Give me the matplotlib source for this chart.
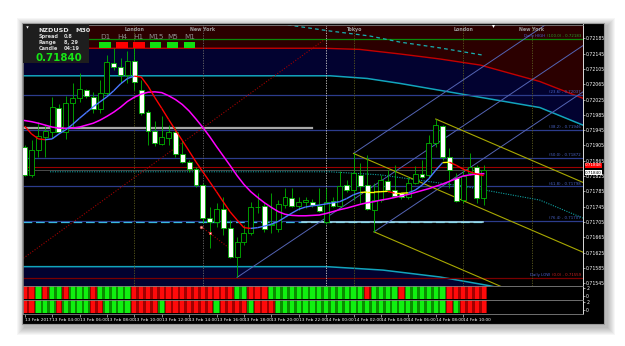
import matplotlib.pyplot as plt
from matplotlib.patches import Rectangle, Polygon
from matplotlib.collections import LineCollection
import numpy as np

W, H = 625, 346

# NZDUSD M30, bars from 13 Feb 02:00
opens = [0.71900, 0.71828, 0.71893, 0.71928, 0.71941, 0.72004, 0.71941, 0.72015, 0.72028, 0.72050,
         0.72032, 0.71999, 0.72042, 0.72121, 0.72111, 0.72089, 0.72126, 0.72050, 0.71992, 0.71943,
         0.71909, 0.71924, 0.71941, 0.71883, 0.71861, 0.71843, 0.71801, 0.71716, 0.71704, 0.71738,
         0.71688, 0.71612, 0.71653, 0.71675, 0.71743, 0.71747, 0.71697, 0.71686, 0.71749, 0.71768,
         0.71747, 0.71758, 0.71758, 0.71747, 0.71704, 0.71760, 0.71747, 0.71801, 0.71788, 0.71828,
         0.71801, 0.71736, 0.71762, 0.71813, 0.71788, 0.71780, 0.71771, 0.71806, 0.71829, 0.71828,
         0.71910, 0.71957, 0.71875, 0.71819, 0.71762, 0.71832, 0.71849, 0.71767]
highs = [0.71906, 0.71919, 0.71967, 0.71958, 0.72032, 0.72013, 0.72034, 0.72069, 0.72093, 0.72053,
         0.72045, 0.72076, 0.72141, 0.72160, 0.72134, 0.72152, 0.72163, 0.72076, 0.71998, 0.71969,
         0.71982, 0.71958, 0.71954, 0.71919, 0.71867, 0.71849, 0.71806, 0.71745, 0.71754, 0.71771,
         0.71710, 0.71666, 0.71697, 0.71758, 0.71780, 0.71754, 0.71780, 0.71762, 0.71793, 0.71793,
         0.71771, 0.71771, 0.71766, 0.71793, 0.71793, 0.71771, 0.71838, 0.71815, 0.71884, 0.71858,
         0.71880, 0.71806, 0.71828, 0.71841, 0.71854, 0.71784, 0.71823, 0.71851, 0.71867, 0.71932,
         0.71974, 0.71958, 0.71897, 0.71832, 0.71841, 0.71884, 0.71854, 0.71854]
lows = [0.71825, 0.71822, 0.71875, 0.71875, 0.71924, 0.71937, 0.71921, 0.71954, 0.72019, 0.72030,
        0.71989, 0.71989, 0.72034, 0.72102, 0.72067, 0.72068, 0.72050, 0.71984, 0.71906, 0.71903,
        0.71906, 0.71906, 0.71875, 0.71858, 0.71836, 0.71797, 0.71701, 0.71636, 0.71692, 0.71671,
        0.71610, 0.71560, 0.71645, 0.71671, 0.71728, 0.71679, 0.71675, 0.71679, 0.71741, 0.71745,
        0.71736, 0.71741, 0.71744, 0.71732, 0.71700, 0.71745, 0.71745, 0.71783, 0.71762, 0.71754,
        0.71736, 0.71679, 0.71758, 0.71784, 0.71771, 0.71764, 0.71764, 0.71804, 0.71819, 0.71822,
        0.71902, 0.71867, 0.71793, 0.71758, 0.71754, 0.71828, 0.71754, 0.71749]
closes = [0.71828, 0.71893, 0.71930, 0.71943, 0.72005, 0.71941, 0.72015, 0.72028, 0.72052, 0.72035,
          0.71999, 0.72041, 0.72124, 0.72109, 0.72089, 0.72126, 0.72072, 0.71990, 0.71943, 0.71912,
          0.71926, 0.71941, 0.71883, 0.71862, 0.71843, 0.71801, 0.71716, 0.71704, 0.71739, 0.71688,
          0.71614, 0.71653, 0.71675, 0.71745, 0.71745, 0.71686, 0.71699, 0.71751, 0.71771, 0.71747,
          0.71758, 0.71762, 0.71749, 0.71734, 0.71758, 0.71747, 0.71800, 0.71788, 0.71832, 0.71800,
          0.71738, 0.71762, 0.71815, 0.71788, 0.71773, 0.71769, 0.71806, 0.71829, 0.71822, 0.71910,
          0.71958, 0.71875, 0.71841, 0.71760, 0.71825, 0.71849, 0.71767, 0.71841]

fast_ma = [0.71955, 0.71935, 0.71922, 0.71920, 0.71922, 0.71935, 0.71946, 0.71960, 0.71976, 0.71991,
           0.72006, 0.72019, 0.72032, 0.72048, 0.72066, 0.72080, 0.72086, 0.72084, 0.72060, 0.72030,
           0.72002, 0.71973, 0.71945, 0.71918, 0.71890, 0.71862, 0.71836, 0.71810, 0.71784, 0.71757,
           0.71731, 0.71710, 0.71690, 0.71688, 0.71690, 0.71694, 0.71699, 0.71706, 0.71717, 0.71728,
           0.71738, 0.71744, 0.71747, 0.71749, 0.71752, 0.71755, 0.71758, 0.71766, 0.71776, 0.71782,
           0.71783, 0.71783, 0.71784, 0.71785, 0.71780, 0.71780, 0.71781, 0.71788, 0.71801, 0.71818,
           0.71840, 0.71860, 0.71861, 0.71853, 0.71843, 0.71836, 0.71830, 0.71826]
slow_ma = [0.71970, 0.71967, 0.71963, 0.71958, 0.71953, 0.71950, 0.71950, 0.71950, 0.71953, 0.71958,
           0.71963, 0.71971, 0.71981, 0.71992, 0.72005, 0.72020, 0.72031, 0.72039, 0.72044, 0.72045,
           0.72043, 0.72035, 0.72025, 0.72012, 0.71995, 0.71974, 0.71952, 0.71928, 0.71902, 0.71877,
           0.71852, 0.71826, 0.71803, 0.71784, 0.71769, 0.71755, 0.71743, 0.71732, 0.71725, 0.71722,
           0.71721, 0.71721, 0.71722, 0.71723, 0.71727, 0.71732, 0.71737, 0.71741, 0.71746, 0.71751,
           0.71755, 0.71758, 0.71762, 0.71765, 0.71769, 0.71773, 0.71777, 0.71782, 0.71787, 0.71792,
           0.71798, 0.71804, 0.71811, 0.71818, 0.71825, 0.71828, 0.71830, 0.71831]

# two trend histograms, G = up, R = down
hist_top = "RRGRGGRGGGRGGGGG" + "RRRRRRRRRRRRRRRGGRRR" + "GGGGGGGGGGGGGG" + "RGGGGRGGGGGGRRRRRR"
hist_bottom = "RRGGGRGGGGRRGGGG" + "RRRRGRRRRRRRGRRRRGRR" + "RGGGGGGGGGGGGG" + "GGGGGGGGGGGGRGRRRR"

price_ticks = [0.72185, 0.72145, 0.72105, 0.72065, 0.72025, 0.71985, 0.71945, 0.71905, 0.71865,
               0.71825, 0.71785, 0.71745, 0.71705, 0.71665, 0.71625, 0.71585, 0.71545]
time_bars = list(range(0, 68, 4))
time_labels = ['13 Feb 2017', '13 Feb 04:00', '13 Feb 06:00', '13 Feb 08:00', '13 Feb 10:00',
               '13 Feb 12:00', '13 Feb 14:00', '13 Feb 16:00', '13 Feb 18:00', '13 Feb 20:00',
               '13 Feb 22:00', '14 Feb 00:00', '14 Feb 02:00', '14 Feb 04:00', '14 Feb 06:00',
               '14 Feb 08:00', '14 Feb 10:00']

fib_names = ['(23.6)', '(38.2)', '(50.0)', '(61.8)', '(76.4)']
fib_levels = [0.72037, 0.71946, 0.71872, 0.71798, 0.71707]
daily_high = 0.72183
daily_low = 0.71559
open_level = 0.71848
bid = 0.71840
grey_level = 0.71950
dashed_level = 0.71704

session_names = ['London', 'New York', 'Tokyo', 'London', 'New York']
session_bars = [16, 26, 48, 64, 74]
session_colors = ['#5c5c1e', '#6a6a6a', '#5c5c1e', '#5c5c1e', '#5c5c1e']
day_bar = 44

# channel envelope (bar, price)
up_red_x = [-0.25, 9.5, 43.5, 48.9, 54.8, 60.6, 66.5, 75.2, 81.5]
up_red_y = [0.72159, 0.72159, 0.72159, 0.72156, 0.72144, 0.72131, 0.72115, 0.72072, 0.72028]
up_cyan_x = [-0.25, 44.6, 50.0, 54.8, 64.5, 75.2, 81.5]
up_cyan_y = [0.72087, 0.72087, 0.72080, 0.72067, 0.72037, 0.72004, 0.71958]
lo_cyan_x = [-0.25, 44.1, 52.3, 60.6, 67.9, 81.5]
lo_cyan_y = [0.71588, 0.71588, 0.71579, 0.71561, 0.71538, 0.71480]
teal_x = [3.7, 44.6, 51.9, 64.5, 75.2, 81.5]
teal_y = [0.71836, 0.71836, 0.71828, 0.71797, 0.71762, 0.71715]
top_teal_x = [38.4, 44.6, 50.4, 54.8, 60.6, 66.9]
top_teal_y = [0.72220, 0.72204, 0.72191, 0.72175, 0.72160, 0.72141]
red_diag_x = [-0.2, 43.7]
red_diag_y = [0.71610, 0.72181]
red_short_x = [25.8, 30.2]
red_short_y = [0.71692, 0.71632]

# pitchfork style lines
blue_pivot_x = [31, 48, 51]
blue_pivot_y = [0.71560, 0.71884, 0.71679]
blue_slope = 0.00012
yellow_pivot_x = [60, 48, 51]
yellow_pivot_y = [0.71974, 0.71884, 0.71679]
yellow_slope = -0.0000771

tf_names = ['D1', 'H4', 'H1', 'M15', 'M5', 'M1']
tf_up = [1, 0, 0, 1, 1, 1]
info_names = ['Spread', 'Range', 'Candle']
info_values = ['0.8', '8, 29', '04:19']

X0, X1 = -0.25, 81.5
Y0, Y1 = 0.715382, 0.722211


def box(l, t, r, b):
    return [l / W, 1 - b / H, (r - l) / W, (b - t) / H]


fig = plt.figure(figsize=(W / 100, H / 100), dpi=100, facecolor='white')

# window and shadow
axb = fig.add_axes([0, 0, 1, 1], zorder=-10)
axb.set_xlim(0, W)
axb.set_ylim(H, 0)
axb.axis('off')
for k in range(8, 0, -1):
    axb.add_patch(Rectangle((22 - k + 2.5, 23 - k + 3), 582 + 2 * k, 301 + 2 * k,
                            fc='black', ec='none', alpha=0.035))
axb.add_patch(Rectangle((22, 23), 582, 301, fc='black', ec='#9a9a9a', lw=0.8))

ax = fig.add_axes(box(23, 24.5, 583, 285.7))
ax1 = fig.add_axes(box(23, 285.7, 583, 300))
ax2 = fig.add_axes(box(23, 300, 583, 314))

for a in (ax, ax1, ax2):
    a.set_facecolor('black')
    a.set_xlim(X0, X1)
    for s in a.spines.values():
        s.set_color('#808080')
        s.set_linewidth(0.6)
    a.spines['right'].set_color('white')
    a.yaxis.tick_right()
    a.tick_params(axis='y', labelsize=3.3, colors='white', length=1.5, width=0.4, pad=0.8)

ax.set_ylim(Y0, Y1)
ax.set_xticks([])
ax.set_yticks(price_ticks)
ax.set_yticklabels([f'{p:.5f}' for p in price_ticks])

# background zones
ax.add_patch(Polygon(list(zip(up_red_x, up_red_y)) + [(X1, Y1 + 0.001), (X0, Y1 + 0.001)],
                     closed=True, fc='#2b0000', ec='none', zorder=0))
ax.add_patch(Polygon(list(zip(up_red_x, up_red_y)) + list(zip(up_cyan_x, up_cyan_y))[::-1],
                     closed=True, fc='#020230', ec='none', zorder=0))
ax.add_patch(Polygon(list(zip(lo_cyan_x, lo_cyan_y)) + [(X1, Y0 - 0.001), (X0, Y0 - 0.001)],
                     closed=True, fc='#020230', ec='none', zorder=0))
ax.plot(up_red_x, up_red_y, color='#c40000', lw=1.0, zorder=1)
ax.plot(up_cyan_x, up_cyan_y, color='#12a4bc', lw=1.1, zorder=1)
ax.plot(lo_cyan_x, lo_cyan_y, color='#12a4bc', lw=1.1, zorder=1)

# horizontal levels
ax.axhline(daily_high, color='#0a8a0a', lw=0.9, zorder=1)
ax.axhline(daily_low, color='#7a0000', lw=0.9, zorder=1)
for lv in fib_levels:
    ax.axhline(lv, color='#2c3c8c', lw=0.9, zorder=1)
ax.axhline(open_level, color='#9a0000', lw=0.8, zorder=1)
ax.axhline(bid, color='#6a6a6a', lw=0.5, zorder=1)
ax.plot([X0, 42], [grey_level] * 2, color='#a8a8a8', lw=1.6, zorder=2)
ax.plot([X0, 66.9], [dashed_level] * 2, color='#38b8e0', lw=0.9, dashes=(7, 3), zorder=2)
ax.plot([40.5, 66.9], [dashed_level] * 2, color='#a8e4ee', lw=1.1, zorder=2)

# session separators
for b, c in zip(session_bars, session_colors):
    ax.axvline(b, color=c, lw=0.6, ls=(0, (1.5, 1.5)), zorder=1)
ax.axvline(day_bar, color='#d0d0d0', lw=0.6, ls=(0, (1.5, 1.5)), zorder=1)
for b, name in zip(session_bars, session_names):
    ax.text(b, 0.72208, name, ha='center', va='center', fontsize=3.4, color='#9a9a9a',
            fontweight='bold', zorder=3)

# dotted / dashed helpers
ax.plot(teal_x, teal_y, color='#0ea0a0', lw=0.8, ls=(0, (1, 1.2)), zorder=2)
ax.plot(top_teal_x, top_teal_y, color='#18b0b0', lw=0.9, dashes=(3, 2.5), zorder=2)
ax.plot(red_diag_x, red_diag_y, color='#a00000', lw=0.8, ls=(0, (1, 1.5)), zorder=2)
ax.plot(red_short_x, red_short_y, color='#a00000', lw=0.8, ls=(0, (1, 1.5)), zorder=2)
ax.plot(red_short_x[0], red_short_y[0], marker='o', ms=2, mfc='#ffb0a0', mec='#c03030', mew=0.4, zorder=7)
ax.plot(red_short_x[0] + 1.2, red_short_y[0] - 0.00017, marker='s', ms=2, mfc='white', mec='#ff2020', mew=0.5, zorder=7)

# pitchfork lines
for px, py in zip(blue_pivot_x, blue_pivot_y):
    ax.plot([px, X1], [py, py + blue_slope * (X1 - px)], color='#5464b4', lw=0.7, zorder=2)
for px, py in zip(yellow_pivot_x, yellow_pivot_y):
    ax.plot([px, X1], [py, py + yellow_slope * (X1 - px)], color='#a8a800', lw=0.8, zorder=2)

# candles
wick = '#00b400'
for i in range(len(opens)):
    o, h, l, c = opens[i], highs[i], lows[i], closes[i]
    ax.vlines(i, l, h, color=wick, lw=0.6, zorder=5)
    lo = min(o, c)
    hgt = max(abs(c - o), 0.000015)
    ax.add_patch(Rectangle((i - 0.36, lo), 0.72, hgt, fc='black' if c >= o else 'white',
                           ec=wick, lw=0.6, zorder=6))

# moving averages
bars = np.arange(len(fast_ma))
ax.plot(bars, slow_ma, color='#ff00ff', lw=1.1, zorder=8)
pts = np.column_stack([bars, fast_ma])
segs = [pts[i:i + 2] for i in range(len(pts) - 1)]
cols = []
for i in range(len(pts) - 1):
    d = fast_ma[i + 1] - fast_ma[i]
    cols.append('#4a78ff' if d > 0.000015 else ('#ff0000' if d < -0.000015 else '#ffff00'))
ax.add_collection(LineCollection(segs, colors=cols, linewidths=1.0, zorder=9))

# right-side labels
for name, lv in zip(fib_names, fib_levels):
    ax.text(81.2, lv + 0.00002, f'{name} - {lv:.5f}', ha='right', va='bottom', fontsize=2.8,
            color='#4a64c8', zorder=10)
t = ax.text(81.2, daily_high + 0.00002, f'(100.0) - {daily_high:.5f}', ha='right', va='bottom',
            fontsize=2.8, color='#2aa02a', zorder=10)
ax.annotate('Daily HIGH ', xy=(0, 0), xycoords=t, ha='right', va='bottom', fontsize=2.8,
            color='#5060d0', zorder=10)
t = ax.text(81.2, daily_low + 0.00002, f'(0.0) - {daily_low:.5f}', ha='right', va='bottom',
            fontsize=2.8, color='#d02020', zorder=10)
ax.annotate('Daily LOW ', xy=(0, 0), xycoords=t, ha='right', va='bottom', fontsize=2.8,
            color='#5060d0', zorder=10)
ax.text(1.004, open_level, f'{open_level:.5f}', transform=ax.get_yaxis_transform(), va='bottom',
        fontsize=3.0, color='white', bbox=dict(boxstyle='square,pad=0.08', fc='#ff0000', ec='none'),
        clip_on=False, zorder=11)
ax.text(1.004, bid - 0.00001, f'{bid:.5f}', transform=ax.get_yaxis_transform(), va='top',
        fontsize=3.0, color='black', bbox=dict(boxstyle='square,pad=0.08', fc='white', ec='none'),
        clip_on=False, zorder=11)

# histogram panels
for a, seq in ((ax1, hist_top), (ax2, hist_bottom)):
    a.set_ylim(-1.05, 2.65)
    a.set_yticks([2, 0])
    a.set_yticklabels(['2', '0'])
    xs = np.arange(len(seq))
    dark = ['#0a8c00' if s == 'G' else '#a00000' for s in seq]
    bright = ['#10f010' if s == 'G' else '#ff0a0a' for s in seq]
    a.bar(xs, 3.4, bottom=-0.85, width=1.0, color=dark, lw=0)
    a.bar(xs, 3.4, bottom=-0.85, width=0.62, color=bright, lw=0)

ax1.set_xticks([])
ax2.set_xticks(time_bars)
ax2.set_xticklabels(time_labels, fontsize=3.1, color='white', ha='left')
ax2.tick_params(axis='x', length=2, width=0.4, color='white', pad=0.6)

# overlay: info box and timeframe boxes
axf = fig.add_axes([0, 0, 1, 1], zorder=20)
axf.set_xlim(0, W)
axf.set_ylim(H, 0)
axf.axis('off')
axf.patch.set_alpha(0)
axf.add_patch(Rectangle((23, 24), 65.5, 39, fc='#1e1e1e', ec='none'))
axf.text(38, 30.6, 'NZDUSD', color='#e6e6e6', fontsize=4.6, fontweight='bold', va='center')
axf.text(75, 30.6, 'M30', color='#e6e6e6', fontsize=4.6, fontweight='bold', va='center')
for k, (n, v) in enumerate(zip(info_names, info_values)):
    axf.text(38.5, 36.8 + 5.7 * k, n, color='#d6d6d6', fontsize=3.6, fontweight='bold', va='center')
    axf.text(64, 36.8 + 5.7 * k, v, color='#d6d6d6', fontsize=3.6, fontweight='bold', va='center')
axf.text(35.5, 57.8, f'{bid:.5f}', color='#16e616', fontsize=7.4, fontweight='bold', va='center')
for k, (n, up) in enumerate(zip(tf_names, tf_up)):
    x = 99.3 + 16.9 * k
    axf.add_patch(Rectangle((x, 41.7), 11.4, 6, fc='#10e010' if up else '#ff0000', ec='none'))
    axf.text(x + 5.7, 36.6, n, ha='center', va='center', fontsize=5.2, color='#8c8c8c')
axf.plot(26.5, 26.5, marker='v', ms=1.8, color='white', mec='none')
axf.plot(493, 25.5, marker='v', ms=2.2, color='white', mec='none')

fig.savefig('out.png', dpi=100, facecolor='white')
